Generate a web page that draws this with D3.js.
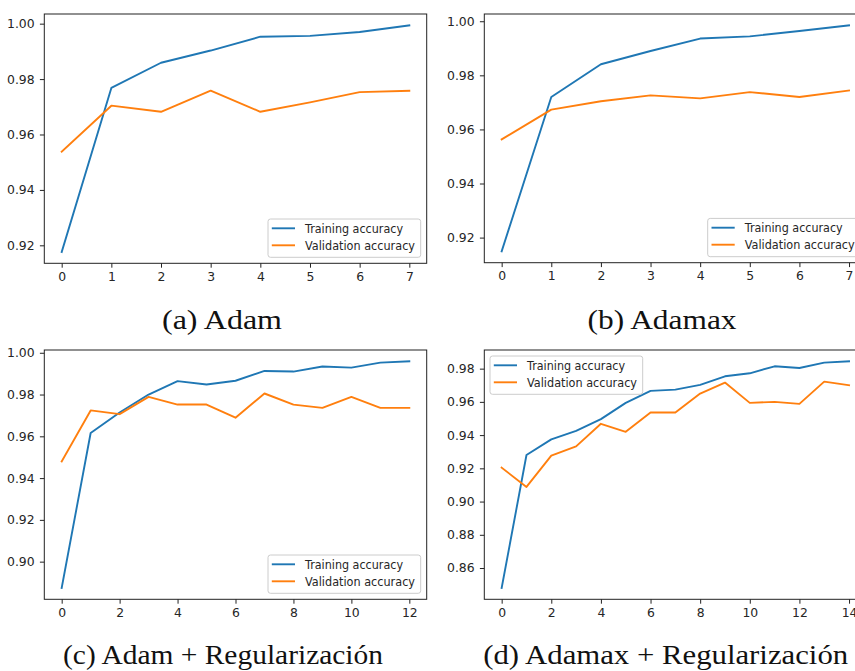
<!DOCTYPE html>
<html>
<head>
<meta charset="utf-8">
<script src="https://cdn.jsdelivr.net/npm/d3@7"></script>
<style>
  html, body { margin: 0; padding: 0; background: #fff; }
  svg { display: block; }
</style>
</head>
<body>
<svg id="fig" width="855" height="671"></svg>
<script>
// Accuracy per epoch for each optimizer run
const adamTrain = [0.9176, 0.9768, 0.9859, 0.9903, 0.9953, 0.9956, 0.9970, 0.9994];
const adamVal   = [0.9538, 0.9704, 0.9682, 0.9758, 0.9682, 0.9716, 0.9753, 0.9758];

const adamaxTrain = [0.9149, 0.9720, 0.9841, 0.9890, 0.9936, 0.9944, 0.9964, 0.9985];
const adamaxVal   = [0.9563, 0.9673, 0.9704, 0.9726, 0.9715, 0.9738, 0.9720, 0.9744];

const adamRegTrain = [0.8874, 0.9616, 0.9714, 0.9800, 0.9864, 0.9848, 0.9866, 0.9913, 0.9910, 0.9934, 0.9929, 0.9953, 0.9959];
const adamRegVal   = [0.9480, 0.9724, 0.9706, 0.9789, 0.9752, 0.9752, 0.9689, 0.9805, 0.9752, 0.9736, 0.9789, 0.9736, 0.9736];

const adamaxRegTrain = [0.8480, 0.9280, 0.9374, 0.9426, 0.9496, 0.9594, 0.9666, 0.9674, 0.9702, 0.9754, 0.9772, 0.9814, 0.9804, 0.9836, 0.9844];
const adamaxRegVal   = [0.9204, 0.9088, 0.9276, 0.9332, 0.9468, 0.9420, 0.9536, 0.9536, 0.9650, 0.9716, 0.9594, 0.9600, 0.9588, 0.9722, 0.9700];

// Tick values
const yTicksA = [0.92, 0.94, 0.96, 0.98, 1.00];
const yTicksB = [0.92, 0.94, 0.96, 0.98, 1.00];
const yTicksC = [0.90, 0.92, 0.94, 0.96, 0.98, 1.00];
const yTicksD = [0.86, 0.88, 0.90, 0.92, 0.94, 0.96, 0.98];
const xTicksA = [0, 1, 2, 3, 4, 5, 6, 7];
const xTicksB = [0, 1, 2, 3, 4, 5, 6, 7];
const xTicksC = [0, 2, 4, 6, 8, 10, 12];
const xTicksD = [0, 2, 4, 6, 8, 10, 12, 14];

const seriesNames = ["Training accuracy", "Validation accuracy"];
const captions = ["(a) Adam", "(b) Adamax", "(c) Adam + Regularización", "(d) Adamax + Regularización"];

const COLORS = ["#1f77b4", "#ff7f0e"];
const svg = d3.select("#fig");

const panels = [
  { train: adamTrain, val: adamVal, xTicks: xTicksA, yTicks: yTicksA,
    box: { x: 44.3, y: 14, w: 382.4, h: 249.3 }, legend: "lower right",
    caption: captions[0], cap: { cx: 222, y: 328.5, len: 120 } },
  { train: adamaxTrain, val: adamaxVal, xTicks: xTicksB, yTicks: yTicksB,
    box: { x: 484.3, y: 14, w: 382.1, h: 248.7 }, legend: "lower right",
    caption: captions[1], cap: { cx: 662, y: 328.5, len: 149 } },
  { train: adamRegTrain, val: adamRegVal, xTicks: xTicksC, yTicks: yTicksC,
    box: { x: 44.3, y: 350, w: 382.4, h: 249.3 }, legend: "lower right",
    caption: captions[2], cap: { cx: 223, y: 663.5, len: 320 } },
  { train: adamaxRegTrain, val: adamaxRegVal, xTicks: xTicksD, yTicks: yTicksD,
    box: { x: 484.3, y: 350, w: 382.1, h: 249.3 }, legend: "upper left",
    caption: captions[3], cap: { cx: 665.7, y: 663.5, len: 365 } }
];

function drawPanel(p) {
  const b = p.box;
  const n = p.train.length - 1;
  const all = p.train.concat(p.val);
  const lo = d3.min(all), hi = d3.max(all);
  const pad = (hi - lo) * 0.05;

  const x = d3.scaleLinear().domain([-0.05 * n, n * 1.05]).range([b.x, b.x + b.w]);
  const y = d3.scaleLinear().domain([lo - pad, hi + pad]).range([b.y + b.h, b.y]);

  const g = svg.append("g");

  // axes
  const yAxis = d3.axisLeft(y).tickValues(p.yTicks).tickFormat(d3.format(".2f"))
    .tickSize(4.4).tickPadding(5.3);
  const xAxis = d3.axisBottom(x).tickValues(p.xTicks).tickFormat(d3.format("d"))
    .tickSize(4.4).tickPadding(5);

  const gy = g.append("g").attr("transform", `translate(${b.x},0)`).call(yAxis);
  const gx = g.append("g").attr("transform", `translate(0,${b.y + b.h})`).call(xAxis);
  [gx, gy].forEach(a => {
    a.select(".domain").remove();
    a.selectAll(".tick line").attr("stroke", "#222").attr("stroke-width", 1);
    a.selectAll(".tick text")
      .attr("fill", "#262626")
      .style("font-family", "'DejaVu Sans', sans-serif")
      .style("font-size", "12.4px");
  });
  gx.selectAll(".tick text").attr("dy", null).attr("y", 17.7);

  // data lines
  const line = d3.line().x((d, i) => x(i)).y(d => y(d));
  [p.train, p.val].forEach((s, k) => {
    g.append("path").datum(s)
      .attr("d", line)
      .attr("fill", "none")
      .attr("stroke", COLORS[k])
      .attr("stroke-width", 1.9)
      .attr("stroke-linejoin", "round")
      .attr("stroke-linecap", "square");
  });

  // frame
  g.append("rect")
    .attr("x", b.x).attr("y", b.y).attr("width", b.w).attr("height", b.h)
    .attr("fill", "none").attr("stroke", "#222").attr("stroke-width", 1);

  // legend
  const lw = 152.7, lh = 38.3;
  const lx = p.legend === "upper left" ? b.x + 5.7 : b.x + b.w - 6 - lw;
  const ly = p.legend === "upper left" ? b.y + 6 : b.y + b.h - 6 - lh;
  const lg = g.append("g").attr("transform", `translate(${lx},${ly})`);
  lg.append("rect")
    .attr("width", lw).attr("height", lh).attr("rx", 2.5)
    .attr("fill", "#fff").attr("fill-opacity", 0.8)
    .attr("stroke", "#cccccc").attr("stroke-width", 1);
  const textLens = [98, 110];
  seriesNames.forEach((name, k) => {
    const cy = 9.3 + k * 17;
    lg.append("line")
      .attr("x1", 3.8).attr("x2", 27).attr("y1", cy).attr("y2", cy)
      .attr("stroke", COLORS[k]).attr("stroke-width", 1.9);
    lg.append("text")
      .attr("x", 37).attr("y", cy).attr("dy", "0.36em")
      .attr("textLength", textLens[k]).attr("lengthAdjust", "spacingAndGlyphs")
      .attr("fill", "#262626")
      .style("font-family", "'DejaVu Sans', sans-serif")
      .style("font-size", "12.2px")
      .text(name);
  });

  // subfigure caption
  svg.append("text")
    .attr("x", p.cap.cx).attr("y", p.cap.y)
    .attr("text-anchor", "middle")
    .attr("textLength", p.cap.len).attr("lengthAdjust", "spacingAndGlyphs")
    .attr("fill", "#111")
    .style("font-family", "'Liberation Serif', 'DejaVu Serif', serif")
    .style("font-size", "27px")
    .text(p.caption);
}

panels.forEach(drawPanel);
</script>
</body>
</html>
